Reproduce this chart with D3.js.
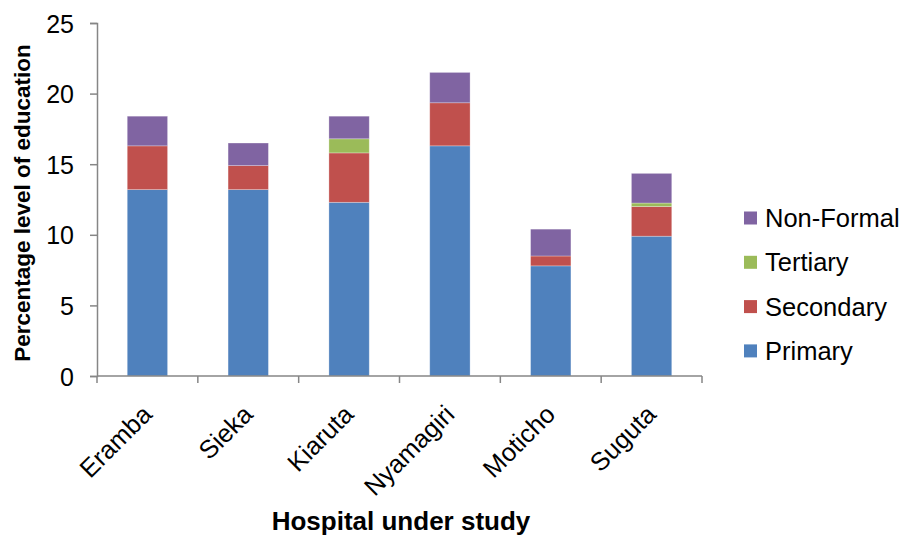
<!DOCTYPE html>
<html><head><meta charset="utf-8">
<script src="https://cdn.jsdelivr.net/npm/d3@7"></script>
<style>body{margin:0;background:#fff}svg{display:block}text{font-family:"Liberation Sans",Arial,sans-serif}</style>
</head><body><svg id="c" width="905" height="535"></svg>
<script>
const categories = ["Eramba","Sieka","Kiaruta","Nyamagiri","Moticho","Suguta"];
const seriesNames = ["Primary","Secondary","Tertiary","Non-Formal"];
const primary   = [13.2, 13.2, 12.3, 16.3, 7.8, 9.9];
const secondary = [3.1, 1.7, 3.5, 3.05, 0.7, 2.1];
const tertiary  = [0, 0, 1.0, 0, 0, 0.25];
const nonFormal = [2.1, 1.6, 1.6, 2.15, 1.9, 2.1];
const yTicks = [0,5,10,15,20,25];
const colors = ["#4F81BD","#C0504D","#9BBB59","#8064A2"];

const svg = d3.select("#c");
const mLeft = 97, mRight = 702, mTop = 23, mBottom = 376;
const x = d3.scaleBand().domain(categories).range([mLeft, mRight]).paddingInner(0.6).paddingOuter(0.3);
const y = d3.scaleLinear().domain([0,25]).range([mBottom, mTop]);

const rows = categories.map((c,i)=>({cat:c, "Primary":primary[i], "Secondary":secondary[i], "Tertiary":tertiary[i], "Non-Formal":nonFormal[i]}));
const stacked = d3.stack().keys(seriesNames)(rows);

svg.append("g").selectAll("g").data(stacked).join("g")
  .attr("fill",(d,i)=>colors[i])
  .selectAll("rect").data(d=>d.filter(s=>s[1]-s[0]>0)).join("rect")
  .attr("x",d=>x(d.data.cat)).attr("width",x.bandwidth())
  .attr("y",d=>y(d[1])).attr("height",d=>y(d[0])-y(d[1]))
  .attr("stroke","rgba(255,255,255,0.35)").attr("stroke-width",0.8);

const axisColor = "#868686";
const ya = svg.append("g").attr("transform",`translate(${mLeft},0)`)
  .call(d3.axisLeft(y).tickValues(yTicks).tickSize(7).tickPadding(6).tickFormat(d3.format("d")));
ya.select(".domain").attr("stroke",axisColor).attr("stroke-width",1.5);
ya.selectAll(".tick line").attr("stroke",axisColor).attr("stroke-width",1.5);
ya.selectAll("text").attr("font-size",25).attr("fill","#000").attr("dx",-10).attr("dy","0.36em");

const xg = svg.append("g");
xg.append("line").attr("x1",mLeft).attr("x2",mRight).attr("y1",mBottom).attr("y2",mBottom)
  .attr("stroke",axisColor).attr("stroke-width",1.5);
const bounds = d3.range(categories.length+1).map(i=>mLeft + i*(mRight-mLeft)/categories.length);
xg.selectAll("line.t").data(bounds).join("line").attr("class","t")
  .attr("x1",d=>d).attr("x2",d=>d).attr("y1",mBottom).attr("y2",mBottom+7)
  .attr("stroke",axisColor).attr("stroke-width",1.5);
xg.selectAll("text").data(categories).join("text")
  .attr("transform",d=>{const cx = x(d)+x.bandwidth()/2 + 6; const cy = mBottom+40; return `translate(${cx},${cy}) rotate(-45)`;})
  .attr("text-anchor","end").attr("font-size",25.5).attr("fill","#000").text(d=>d);

svg.append("text").attr("x",401).attr("y",530).attr("text-anchor","middle")
  .attr("font-size",26).attr("font-weight","bold").text("Hospital under study");
svg.append("text").attr("transform","translate(30,203) rotate(-90)").attr("text-anchor","middle")
  .attr("font-size",22.5).attr("font-weight","bold").text("Percentage level of education");

const legendItems = seriesNames.map((n,i)=>({n,c:colors[i]})).reverse();
const lg = svg.append("g").selectAll("g").data(legendItems).join("g")
  .attr("transform",(d,i)=>`translate(744,${218 + i*44.3})`);
lg.append("rect").attr("x",0).attr("y",-6.5).attr("width",13).attr("height",13).attr("fill",d=>d.c);
lg.append("text").attr("x",21).attr("y",9).attr("font-size",25.5).attr("fill","#000").text(d=>d.n);
</script></body></html>
